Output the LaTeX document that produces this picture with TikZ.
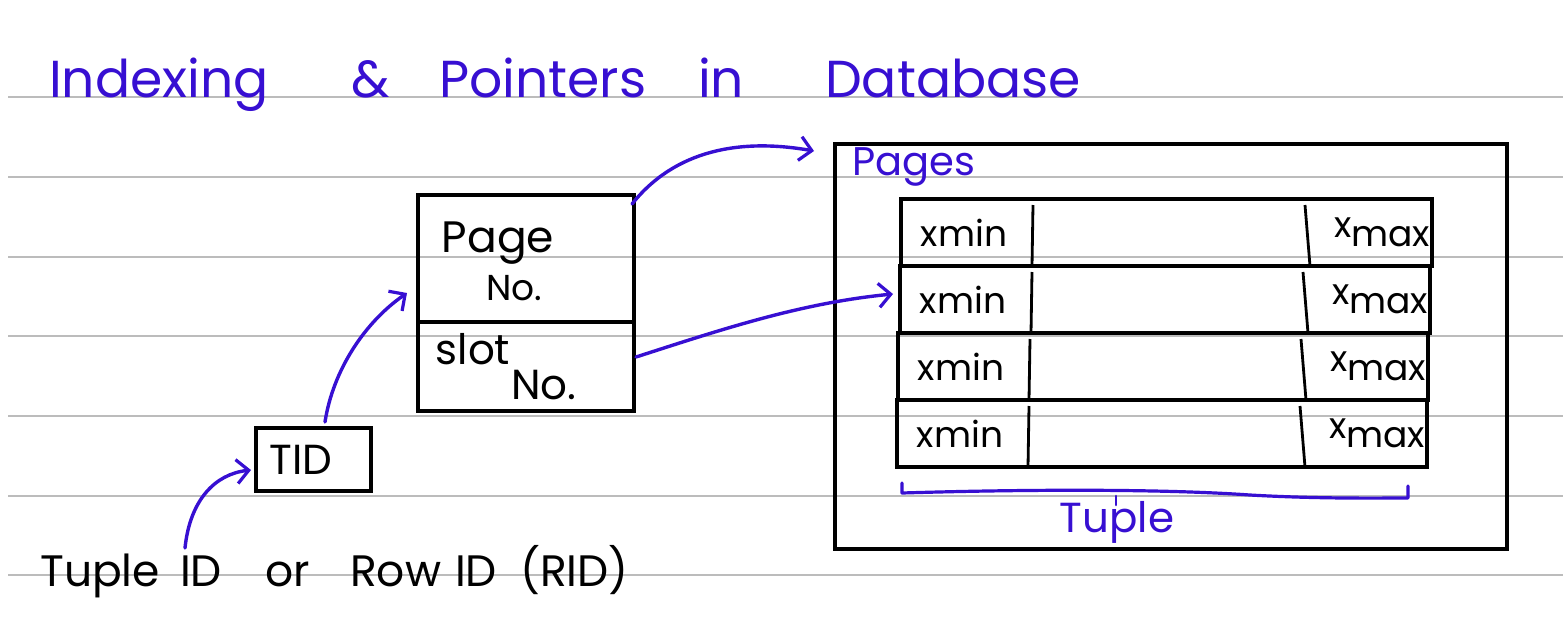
\documentclass[tikz,border=0pt]{standalone}
\usepackage{fontspec}
\setmainfont{Poppins}
\usetikzlibrary{arrows.meta}
\definecolor{ink}{RGB}{55,15,210}
\definecolor{ruleline}{RGB}{188,188,188}
\begin{document}
\begin{tikzpicture}[x=1pt,y=-1pt,
  fs/.style={font=\fontsize{#1}{#1}\selectfont},
  boxline/.style={draw=black,line width=3.4pt,inner sep=0pt,outer sep=0pt},
  blk/.style={text=black,inner sep=0pt},
  blu/.style={text=ink,inner sep=0pt},
  conn/.style={draw=ink,line width=3.4pt,line cap=round,
    -{Straight Barb[length=12pt,width=24pt,line width=3.2pt]}},
  ruleln/.style={draw=ruleline,line width=2pt}]
\useasboundingbox[fill=white] (0,0) rectangle (1563,619);
% ruled paper lines
\foreach \yy in {97,177,257,336,416,496,575}
  \draw[ruleln] (8,\yy) -- (1563,\yy);
% title
\node[blu,fs=52,anchor=base west] (title) at (49,97)
  {\makebox[302pt][l]{Indexing}\makebox[88pt][l]{\&}\makebox[259pt][l]{Pointers}\makebox[127pt][l]{in}Database};
% TID pointer record
\node[boxline,minimum width=216pt,minimum height=127pt,anchor=north west] (pageno) at (418,195) {};
\node[boxline,minimum width=216pt,minimum height=89pt,anchor=north west] (slotno) at (418,322) {};
\node[blk,fs=44] (pagetxt) at (498,243) {Page};
\node[blk,fs=36] (pagenotxt) at (514,288) {No.};
\node[blk,fs=42] (slottxt) at (473,349) {slot};
\node[blk,fs=42] (slotnotxt) at (544,385) {No.};
% TID box
\node[boxline,minimum width=115pt,minimum height=63pt,anchor=north west] (tid) at (256,428) {};
\node[blk,fs=42] (tidtxt) at (301,460) {TID};
\node[blk,fs=44,anchor=base west] (rid) at (40,586)
  {\makebox[140pt][l]{Tuple}\makebox[85pt][l]{ID}\makebox[85pt][l]{or}\makebox[105pt][l]{Row}\makebox[65pt][l]{ID}(RID)};
% pages box
\node[boxline,minimum width=672pt,minimum height=405pt,anchor=north west] (pages) at (835,144) {};
\node[blu,fs=40] (pagestxt) at (914,167) {Pages};
% tuple rows
\foreach \i/\l/\t/\r in {1/901/199/1432,2/900/266/1430,3/898/333/1428,4/897/400/1427}{
  \node[boxline,minimum width={\r pt-\l pt},minimum height=67pt,anchor=north west] (row\i) at (\l,\t) {};
  \draw[black,line width=2.8pt] ([xshift=132pt,yshift=-6pt]row\i.north west) -- ([xshift=131pt]row\i.south west);
  \draw[black,line width=2.8pt] ([xshift=-127pt,yshift=-6pt]row\i.north east) -- ([xshift=-122pt]row\i.south east);
  \node[blk,fs=36] (xmin\i) at ([xshift=63pt]row\i.west) {xmin};
  \node[blk,fs=36] (xmax\i) at ([xshift=-50pt]row\i.east) {x\raisebox{-0.25em}{max}};
}
% tuple brace
\coordinate (bl) at (902,483);
\coordinate (br) at (1408,486);
\draw[ink,line width=3.2pt,line cap=round,line join=round]
  (bl) -- (902,493) .. controls (1000,490) and (1150,488) .. (1250,495)
  .. controls (1320,499) and (1380,498) .. (1408,498) -- (br);
\draw[ink,line width=2.6pt,line cap=round] (1116,496) -- (1116,505);
\node[blu,fs=42] (tupletxt) at (1117,522) {Tuple};
% connectors
\coordinate (s1) at (185,548);
\coordinate (t1) at (251,470);
\draw[conn] (s1) .. controls (190,500) and (215,474) .. (t1);
\coordinate (s2) at (325,422);
\coordinate (t2) at (407,293);
\draw[conn] (s2) .. controls (333,370) and (365,322) .. (t2);
\coordinate (s3) at (632,204);
\coordinate (t3) at (814,151);
\draw[conn] (s3) .. controls (675,150) and (740,138) .. (t3);
\coordinate (s4) at (636,357);
\coordinate (t4) at (893,294);
\draw[conn] (s4) .. controls (720,330) and (800,303) .. (t4);
\end{tikzpicture}
\end{document}
